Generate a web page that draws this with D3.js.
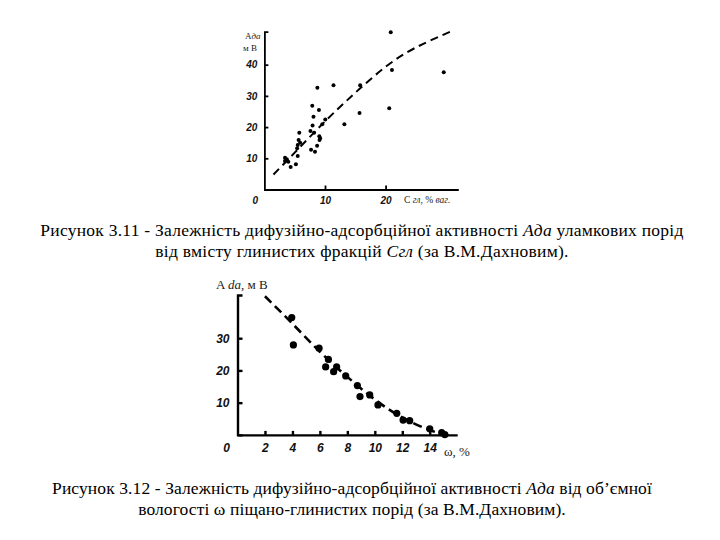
<!DOCTYPE html>
<html><head><meta charset="utf-8">
<script src="https://cdn.jsdelivr.net/npm/d3@7"></script>
<style>body{margin:0;background:#fff}svg{display:block}</style>
</head><body>
<svg id="c" width="720" height="540"></svg>
<script>
// Figure 3.11: Ada (mV) vs C gl (% wt)
const topPoints = [
  [20.85,50.4],[21.05,38.3],[29.6,37.6],[20.6,26.0],[15.7,24.5],[15.8,33.4],
  [11.4,33.4],[8.74,32.6],[13.2,20.9],[10.05,22.4],[9.55,20.9],[9.0,25.5],
  [7.9,26.8],[8.1,23.3],[7.95,20.5],[7.6,18.75],[8.2,18.2],[9.06,17.1],
  [9.1,15.9],[8.7,14.0],[7.7,12.7],[8.35,12.1],[5.76,18.2],[5.65,15.9],
  [5.5,14.3],[5.4,13.2],[5.5,10.7],[5.2,8.1],[4.33,7.2],[3.4,10.2],
  [3.4,9.1],[3.7,9.7],[3.95,8.9],[5.9,15.0],[9.2,16.4]
];
const topCurve = [[1.5,4.8],[5,11.8],[10,21.8],[15,31],[20,39.3],[25,45.5],[31.2,51]];
const topXTicks = [10,20];
const topYTicks = [10,20,30,40];

// Figure 3.12: Ada (mV) vs omega (%)
const botPoints = [
  [3.95,36.4],[4.07,27.9],[5.94,26.9],[6.62,23.4],[6.42,21.1],[7.22,21.1],
  [7.0,19.6],[7.88,18.3],[8.73,15.3],[8.92,11.9],[9.63,12.4],[10.23,9.3],
  [11.6,6.7],[12.06,4.6],[12.54,4.4],[14.0,1.9],[14.87,0.7],[15.1,0.1]
];
const botCurve = [[2,43],[4,34.5],[6,25.8],[8,18],[10,11],[12,5.4],[14,1.5],[15.4,-0.3]];
const botXTicks = [2,4,6,8,10,12,14];
const botYTicks = [10,20,30];

const captions311 = [
  [{t:"Рисунок 3.11 - Залежність дифузійно-адсорбційної активності "},{t:"Ада",i:true},{t:" уламкових порід"}],
  [{t:"від вмісту глинистих фракцій "},{t:"Сгл",i:true},{t:" (за В.М.Дахновим)."}]
];
const captions312 = [
  [{t:"Рисунок 3.12 - Залежність дифузійно-адсорбційної активності "},{t:"Ада",i:true},{t:" від об’ємної"}],
  [{t:"вологості ω піщано-глинистих порід (за В.М.Дахновим)."}]
];

const svg = d3.select("#c");
const tickFont = "'Liberation Sans', Arial, sans-serif";
const serif = "'Liberation Serif', 'Times New Roman', serif";

function styleAxis(g, fs, sw){
  g.select(".domain").attr("stroke","#000").attr("stroke-width",sw).attr("fill","none");
  g.selectAll(".tick line").attr("stroke","#000").attr("stroke-width",sw);
  g.selectAll(".tick text").attr("font-family",tickFont).attr("font-style","italic")
    .attr("font-weight","bold").attr("font-size",fs).attr("fill","#111");
}

// ---------- Top chart ----------
{
  const x = d3.scaleLinear().domain([0,32]).range([264.4,458.3]);
  const y = d3.scaleLinear().domain([0,50.6]).range([189.5,31.6]);
  const gx = svg.append("g").attr("transform",`translate(0,${y(0)})`)
    .call(d3.axisBottom(x).tickValues(topXTicks).tickSizeInner(-4).tickSizeOuter(0).tickPadding(7));
  styleAxis(gx, 10, 1.8);
  const gy = svg.append("g").attr("transform",`translate(${x(0)},0)`)
    .call(d3.axisLeft(y).tickValues(topYTicks).tickSizeInner(-4).tickSizeOuter(-4).tickPadding(7));
  styleAxis(gy, 10, 1.8);
  svg.append("text").attr("x",x(0)-9).attr("y",y(0)+14).attr("text-anchor","middle")
    .attr("font-family",tickFont).attr("font-style","italic").attr("font-weight","bold")
    .attr("font-size",10).attr("fill","#111").text("0");

  svg.append("path").datum(topCurve)
    .attr("d", d3.line().x(d=>x(d[0])).y(d=>y(d[1])).curve(d3.curveNatural))
    .attr("fill","none").attr("stroke","#000").attr("stroke-width",2).attr("stroke-dasharray","8,5");
  svg.append("g").selectAll("circle").data(topPoints).join("circle")
    .attr("cx",d=>x(d[0])).attr("cy",d=>y(d[1])).attr("r",2).attr("fill","#000");

  const t1 = svg.append("text").attr("x",245).attr("y",39).attr("font-family",serif).attr("font-size",9).attr("fill","#222");
  t1.append("tspan").text("A");
  t1.append("tspan").attr("font-style","italic").text("да");
  svg.append("text").attr("x",243).attr("y",51).attr("font-family",serif).attr("font-size",9).attr("fill","#222").text("м В");
  const t2 = svg.append("text").attr("x",404).attr("y",203).attr("font-family",serif).attr("font-size",9.5).attr("fill","#222");
  t2.append("tspan").text("С ");
  t2.append("tspan").attr("font-style","italic").text("гл");
  t2.append("tspan").text(", % ");
  t2.append("tspan").attr("font-style","italic").text("ваг.");
}

// ---------- Bottom chart ----------
{
  const x = d3.scaleLinear().domain([0,16]).range([237.5,457.2]);
  const y = d3.scaleLinear().domain([0,43.4]).range([434.9,295]);
  const gx = svg.append("g").attr("transform",`translate(0,${y(0)})`)
    .call(d3.axisBottom(x).tickValues(botXTicks).tickSizeInner(-4).tickSizeOuter(0).tickPadding(9));
  styleAxis(gx, 12, 2.4);
  const gy = svg.append("g").attr("transform",`translate(${x(0)},0)`)
    .call(d3.axisLeft(y).tickValues(botYTicks).tickSizeInner(-5).tickSizeOuter(-5).tickPadding(8));
  styleAxis(gy, 12, 2.4);
  svg.append("text").attr("x",x(0)-11).attr("y",y(0)+17).attr("text-anchor","middle")
    .attr("font-family",tickFont).attr("font-style","italic").attr("font-weight","bold")
    .attr("font-size",12).attr("fill","#111").text("0");

  svg.append("path").datum(botCurve)
    .attr("d", d3.line().x(d=>x(d[0])).y(d=>y(d[1])).curve(d3.curveNatural))
    .attr("fill","none").attr("stroke","#000").attr("stroke-width",2.6).attr("stroke-dasharray","9,5");
  svg.append("g").selectAll("circle").data(botPoints).join("circle")
    .attr("cx",d=>x(d[0])).attr("cy",d=>y(d[1])).attr("r",3.6).attr("fill","#000");

  const t1 = svg.append("text").attr("x",216).attr("y",289).attr("font-family",serif).attr("font-size",13).attr("fill","#222");
  t1.append("tspan").text("A ");
  t1.append("tspan").attr("font-style","italic").text("da");
  t1.append("tspan").text(", м В");
  svg.append("text").attr("x",444).attr("y",456).attr("font-family",serif).attr("font-size",13).attr("fill","#222").text("ω, %");
}

// ---------- Captions ----------
function caption(lines, y0, cx, ls){
  lines.forEach((parts,i)=>{
    const t = svg.append("text").attr("x",cx).attr("y",y0+i*21).attr("text-anchor","middle")
      .attr("font-family",serif).attr("font-size",17.5).attr("letter-spacing",ls).attr("fill","#000");
    parts.forEach(p=>{ const s=t.append("tspan").text(p.t); if(p.i) s.attr("font-style","italic"); });
  });
}
caption(captions311, 236, 362, 0.25);
caption(captions312, 494, 352, 0.1);
</script>
</body></html>
